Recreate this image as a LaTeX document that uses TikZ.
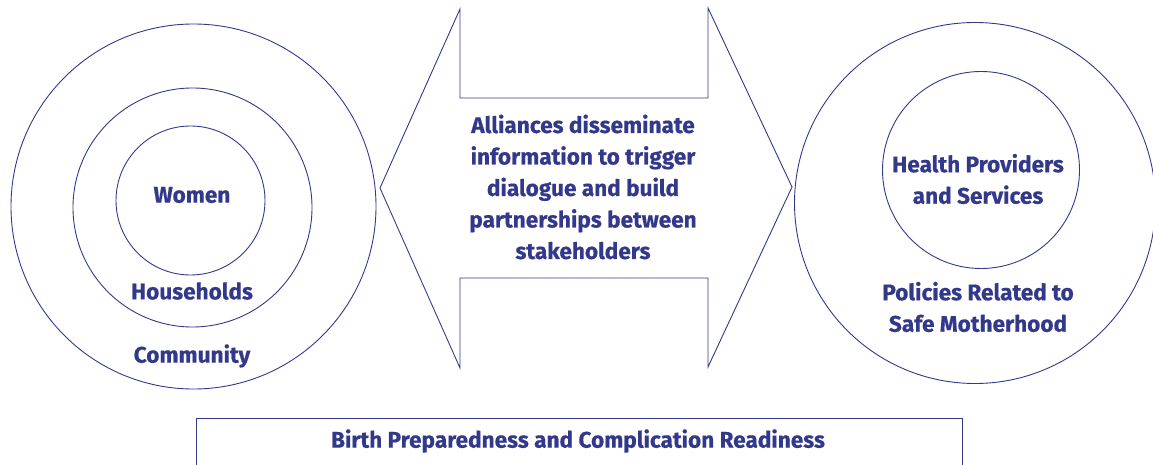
\documentclass[tikz,border=0pt]{standalone}
\usepackage{fontspec}
\setmainfont{Fira Sans}[BoldFeatures={FakeBold=0.5}]
\definecolor{maincol}{RGB}{50,56,138}
\begin{document}
\begin{tikzpicture}[x=1pt,y=-1pt,
  ring/.style={draw=maincol,line width=0.9pt,circle,inner sep=0pt},
  lbl/.style={text=maincol,font=\fontsize{22.6}{31.5}\selectfont\bfseries,align=center,inner sep=0pt},
  shapeline/.style={draw=maincol,line width=0.9pt,line join=miter}]
\useasboundingbox (0,0) rectangle (1153,465);
\clip (0,0) rectangle (1153,465);
% left rings
\node[ring,minimum size=365pt] (comm) at (193.5,206.5) {};
\node[ring,minimum size=239pt] (house) at (192.5,207.5) {};
\node[ring,minimum size=149pt] (women) at (190.5,200.5) {};
\node[lbl] (twomen) at (192,195) {Women};
\node[lbl] (thouse) at (192,291) {Households};
\node[lbl] (tcomm) at (192,356) {Community};
% double arrow
\draw[shapeline] (380,188) -- (460,9) -- (460,98) -- (708,98) -- (708,8) -- (792,187)
  -- (708,367) -- (708,278) -- (460,278) -- (460,368) -- cycle;
\node[lbl] (tarrow) at (583,187) {Alliances disseminate\\information to trigger\\dialogue and build\\partnerships between\\stakeholders};
% right rings
\node[ring,minimum size=361pt] (policy) at (975,203) {};
\node[ring,minimum size=197pt] (health) at (981,170) {};
\node[lbl] (thealth) at (978,179) {Health Providers\\and Services};
\node[lbl] (tpolicy) at (978,307) {Policies Related to\\Safe Motherhood};
% bottom box
\node[lbl] (tbirth) at (578,441) {Birth Preparedness and Complication Readiness};
\coordinate (bl) at (196,470);
\coordinate (br) at (962,470);
\draw[shapeline] (bl) -- (196,418) -- (962,418) -- (br);
\end{tikzpicture}
\end{document}
